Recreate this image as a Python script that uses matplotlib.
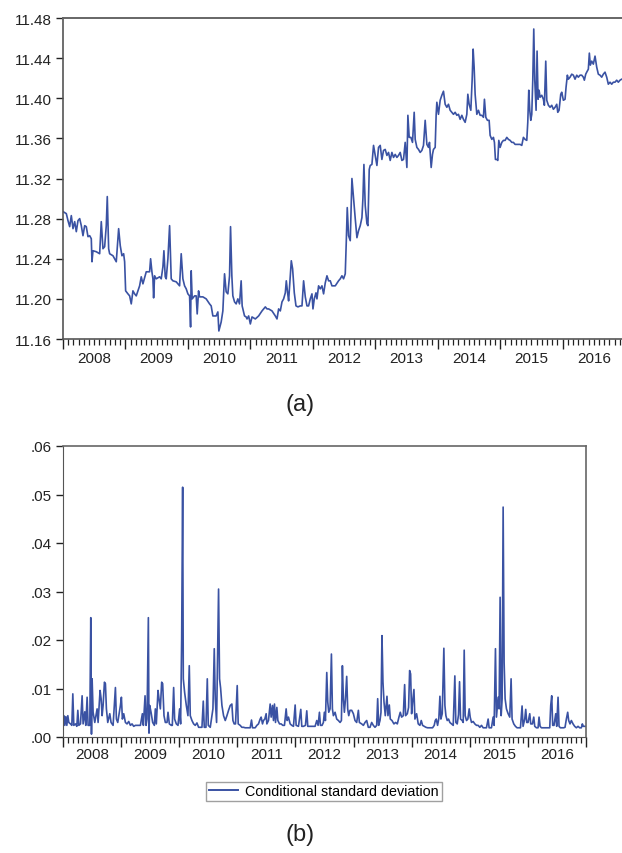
import matplotlib
matplotlib.use("Agg")
import matplotlib.pyplot as plt
from matplotlib.ticker import FixedLocator, NullFormatter
from matplotlib.lines import Line2D

plt.rcParams['font.family'] = ['Liberation Sans', 'DejaVu Sans']

# ---------------- data: panel (a) exchange-rate level ----------------
level_dates = [
    2008.000, 2008.053, 2008.080, 2008.107, 2008.133, 2008.160, 2008.187, 2008.213, 2008.240, 2008.267,
    2008.293, 2008.320, 2008.347, 2008.373, 2008.400, 2008.427, 2008.453, 2008.464, 2008.480, 2008.533,
    2008.587, 2008.613, 2008.640, 2008.667, 2008.693, 2008.709, 2008.731, 2008.747, 2008.800, 2008.853,
    2008.891, 2008.917, 2008.944, 2008.971, 2008.987, 2009.003, 2009.040, 2009.067, 2009.093, 2009.120,
    2009.147, 2009.173, 2009.227, 2009.253, 2009.280, 2009.333, 2009.387, 2009.403, 2009.424, 2009.440,
    2009.451, 2009.467, 2009.493, 2009.547, 2009.573, 2009.600, 2009.616, 2009.637, 2009.653, 2009.680,
    2009.707, 2009.733, 2009.760, 2009.813, 2009.867, 2009.893, 2009.920, 2009.947, 2009.973, 2010.000,
    2010.027, 2010.043, 2010.053, 2010.069, 2010.107, 2010.133, 2010.149, 2010.171, 2010.187, 2010.240,
    2010.293, 2010.347, 2010.373, 2010.400, 2010.453, 2010.480, 2010.496, 2010.533, 2010.560, 2010.587,
    2010.613, 2010.640, 2010.667, 2010.683, 2010.704, 2010.720, 2010.747, 2010.773, 2010.800, 2010.827,
    2010.853, 2010.869, 2010.907, 2010.933, 2010.947, 2010.973, 2011.000, 2011.027, 2011.080, 2011.133,
    2011.187, 2011.240, 2011.267, 2011.293, 2011.347, 2011.400, 2011.427, 2011.453, 2011.480, 2011.507,
    2011.533, 2011.560, 2011.576, 2011.597, 2011.613, 2011.640, 2011.656, 2011.677, 2011.704, 2011.731,
    2011.763, 2011.800, 2011.827, 2011.853, 2011.880, 2011.907, 2011.933, 2011.960, 2011.987, 2012.003,
    2012.024, 2012.051, 2012.067, 2012.093, 2012.120, 2012.147, 2012.173, 2012.200, 2012.227, 2012.253,
    2012.280, 2012.307, 2012.360, 2012.413, 2012.440, 2012.467, 2012.493, 2012.520, 2012.536, 2012.552,
    2012.573, 2012.600, 2012.627, 2012.653, 2012.680, 2012.707, 2012.733, 2012.760, 2012.787, 2012.803,
    2012.819, 2012.840, 2012.867, 2012.883, 2012.904, 2012.920, 2012.947, 2012.973, 2013.000, 2013.027,
    2013.053, 2013.080, 2013.107, 2013.133, 2013.160, 2013.187, 2013.213, 2013.240, 2013.267, 2013.293,
    2013.320, 2013.347, 2013.373, 2013.400, 2013.427, 2013.453, 2013.480, 2013.507, 2013.523, 2013.544,
    2013.571, 2013.597, 2013.624, 2013.640, 2013.667, 2013.693, 2013.720, 2013.747, 2013.773, 2013.800,
    2013.827, 2013.853, 2013.869, 2013.896, 2013.917, 2013.933, 2013.960, 2013.976, 2013.987, 2014.013,
    2014.040, 2014.067, 2014.093, 2014.120, 2014.147, 2014.173, 2014.200, 2014.227, 2014.253, 2014.280,
    2014.307, 2014.333, 2014.360, 2014.387, 2014.413, 2014.440, 2014.467, 2014.483, 2014.504, 2014.531,
    2014.552, 2014.568, 2014.584, 2014.600, 2014.627, 2014.653, 2014.680, 2014.707, 2014.733, 2014.749,
    2014.771, 2014.797, 2014.824, 2014.840, 2014.867, 2014.893, 2014.909, 2014.925, 2014.947, 2014.963,
    2014.979, 2015.000, 2015.027, 2015.053, 2015.080, 2015.107, 2015.133, 2015.160, 2015.187, 2015.213,
    2015.240, 2015.267, 2015.293, 2015.320, 2015.347, 2015.373, 2015.400, 2015.427, 2015.443, 2015.459,
    2015.475, 2015.491, 2015.507, 2015.523, 2015.539, 2015.555, 2015.576, 2015.592, 2015.608, 2015.624,
    2015.640, 2015.667, 2015.693, 2015.709, 2015.731, 2015.747, 2015.773, 2015.800, 2015.827, 2015.853,
    2015.880, 2015.907, 2015.923, 2015.944, 2015.971, 2015.987, 2016.013, 2016.040, 2016.056, 2016.077,
    2016.093, 2016.120, 2016.147, 2016.173, 2016.200, 2016.227, 2016.253, 2016.280, 2016.307, 2016.333,
    2016.349, 2016.371, 2016.387, 2016.413, 2016.429, 2016.445, 2016.467, 2016.493, 2016.520, 2016.547,
    2016.573, 2016.600, 2016.627, 2016.653, 2016.680, 2016.707, 2016.733, 2016.760, 2016.787, 2016.813,
    2016.840, 2016.867, 2016.893, 2016.920, 2016.947, 2016.990,
]
level_values = [
    11.287, 11.285, 11.278, 11.272, 11.283, 11.270, 11.277, 11.267, 11.278, 11.280,
    11.273, 11.263, 11.273, 11.272, 11.262, 11.263, 11.260, 11.237, 11.248, 11.247,
    11.245, 11.277, 11.250, 11.252, 11.273, 11.302, 11.250, 11.245, 11.243, 11.237,
    11.270, 11.253, 11.243, 11.245, 11.237, 11.208, 11.205, 11.203, 11.195, 11.208,
    11.205, 11.203, 11.213, 11.222, 11.215, 11.227, 11.227, 11.240, 11.227, 11.220,
    11.201, 11.223, 11.220, 11.222, 11.220, 11.232, 11.248, 11.222, 11.220, 11.240,
    11.273, 11.220, 11.218, 11.217, 11.213, 11.245, 11.220, 11.213, 11.210, 11.205,
    11.203, 11.172, 11.228, 11.200, 11.203, 11.203, 11.185, 11.208, 11.202, 11.202,
    11.200, 11.195, 11.193, 11.183, 11.183, 11.187, 11.168, 11.177, 11.188, 11.225,
    11.207, 11.205, 11.223, 11.272, 11.223, 11.203, 11.197, 11.195, 11.200, 11.195,
    11.218, 11.193, 11.183, 11.182, 11.180, 11.183, 11.175, 11.182, 11.180, 11.183,
    11.188, 11.192, 11.190, 11.190, 11.188, 11.183, 11.180, 11.190, 11.188, 11.197,
    11.200, 11.206, 11.218, 11.206, 11.198, 11.223, 11.238, 11.230, 11.206, 11.193,
    11.192, 11.193, 11.193, 11.218, 11.202, 11.193, 11.193, 11.200, 11.205, 11.190,
    11.200, 11.206, 11.200, 11.213, 11.210, 11.213, 11.205, 11.216, 11.223, 11.218,
    11.218, 11.213, 11.213, 11.218, 11.220, 11.223, 11.220, 11.225, 11.256, 11.291,
    11.263, 11.258, 11.320, 11.300, 11.280, 11.261, 11.268, 11.273, 11.281, 11.300,
    11.334, 11.293, 11.275, 11.273, 11.329, 11.333, 11.334, 11.353, 11.343, 11.333,
    11.351, 11.353, 11.339, 11.348, 11.349, 11.343, 11.346, 11.338, 11.346, 11.341,
    11.344, 11.341, 11.343, 11.346, 11.338, 11.339, 11.356, 11.331, 11.383, 11.361,
    11.361, 11.356, 11.386, 11.359, 11.351, 11.349, 11.346, 11.348, 11.353, 11.378,
    11.354, 11.351, 11.356, 11.331, 11.344, 11.349, 11.351, 11.384, 11.396, 11.384,
    11.398, 11.403, 11.407, 11.394, 11.391, 11.394, 11.388, 11.386, 11.384, 11.386,
    11.383, 11.384, 11.379, 11.383, 11.379, 11.376, 11.384, 11.404, 11.394, 11.388,
    11.418, 11.449, 11.431, 11.404, 11.384, 11.388, 11.383, 11.383, 11.381, 11.399,
    11.381, 11.378, 11.378, 11.363, 11.359, 11.361, 11.356, 11.339, 11.339, 11.338,
    11.358, 11.351, 11.356, 11.358, 11.358, 11.361, 11.359, 11.358, 11.356, 11.356,
    11.354, 11.354, 11.354, 11.354, 11.353, 11.361, 11.359, 11.358, 11.376, 11.408,
    11.388, 11.378, 11.384, 11.418, 11.469, 11.418, 11.388, 11.447, 11.399, 11.408,
    11.401, 11.403, 11.399, 11.393, 11.437, 11.398, 11.393, 11.391, 11.393, 11.389,
    11.391, 11.394, 11.386, 11.388, 11.404, 11.406, 11.398, 11.399, 11.411, 11.423,
    11.419, 11.421, 11.424, 11.423, 11.419, 11.423, 11.421, 11.423, 11.423, 11.421,
    11.418, 11.424, 11.426, 11.429, 11.445, 11.433, 11.437, 11.434, 11.442, 11.431,
    11.424, 11.423, 11.421, 11.424, 11.426, 11.421, 11.414, 11.416, 11.414, 11.416,
    11.416, 11.418, 11.416, 11.418, 11.419, 11.420,
]

# ---------------- data: panel (b) conditional standard deviation ----------------
sd_dates = [
    2008.000, 2008.014, 2008.031, 2008.049, 2008.066, 2008.083, 2008.100, 2008.129, 2008.152, 2008.169,
    2008.186, 2008.215, 2008.238, 2008.255, 2008.272, 2008.301, 2008.329, 2008.346, 2008.375, 2008.392,
    2008.415, 2008.432, 2008.461, 2008.478, 2008.490, 2008.501, 2008.518, 2008.547, 2008.587, 2008.604,
    2008.638, 2008.656, 2008.673, 2008.690, 2008.713, 2008.730, 2008.747, 2008.770, 2008.805, 2008.827,
    2008.862, 2008.902, 2008.919, 2008.942, 2008.965, 2008.988, 2009.005, 2009.022, 2009.045, 2009.074,
    2009.102, 2009.131, 2009.160, 2009.188, 2009.217, 2009.246, 2009.274, 2009.303, 2009.332, 2009.366,
    2009.383, 2009.412, 2009.429, 2009.446, 2009.469, 2009.480, 2009.492, 2009.515, 2009.543, 2009.572,
    2009.589, 2009.606, 2009.635, 2009.652, 2009.675, 2009.698, 2009.715, 2009.738, 2009.761, 2009.790,
    2009.807, 2009.830, 2009.864, 2009.881, 2009.904, 2009.921, 2009.950, 2009.979, 2010.007, 2010.024,
    2010.042, 2010.059, 2010.070, 2010.093, 2010.122, 2010.150, 2010.173, 2010.190, 2010.219, 2010.248,
    2010.276, 2010.305, 2010.334, 2010.362, 2010.391, 2010.414, 2010.431, 2010.460, 2010.483, 2010.500,
    2010.534, 2010.563, 2010.580, 2010.603, 2010.620, 2010.643, 2010.677, 2010.694, 2010.712, 2010.735,
    2010.763, 2010.792, 2010.821, 2010.849, 2010.878, 2010.906, 2010.924, 2010.946, 2010.969, 2010.998,
    2011.015, 2011.049, 2011.078, 2011.107, 2011.135, 2011.164, 2011.193, 2011.221, 2011.244, 2011.261,
    2011.307, 2011.336, 2011.364, 2011.393, 2011.410, 2011.433, 2011.450, 2011.473, 2011.496, 2011.508,
    2011.536, 2011.565, 2011.582, 2011.605, 2011.622, 2011.639, 2011.657, 2011.680, 2011.697, 2011.726,
    2011.754, 2011.783, 2011.811, 2011.840, 2011.857, 2011.880, 2011.909, 2011.937, 2011.966, 2011.995,
    2012.012, 2012.052, 2012.092, 2012.109, 2012.138, 2012.172, 2012.195, 2012.212, 2012.252, 2012.281,
    2012.310, 2012.338, 2012.367, 2012.390, 2012.413, 2012.430, 2012.458, 2012.481, 2012.498, 2012.516,
    2012.539, 2012.556, 2012.573, 2012.596, 2012.619, 2012.636, 2012.653, 2012.682, 2012.710, 2012.739,
    2012.768, 2012.791, 2012.808, 2012.825, 2012.842, 2012.859, 2012.882, 2012.899, 2012.917, 2012.939,
    2012.968, 2012.997, 2013.025, 2013.054, 2013.083, 2013.100, 2013.140, 2013.169, 2013.197, 2013.226,
    2013.254, 2013.283, 2013.312, 2013.340, 2013.369, 2013.398, 2013.415, 2013.432, 2013.455, 2013.472,
    2013.489, 2013.506, 2013.524, 2013.546, 2013.575, 2013.592, 2013.615, 2013.632, 2013.661, 2013.695,
    2013.724, 2013.753, 2013.781, 2013.804, 2013.827, 2013.856, 2013.879, 2013.896, 2013.925, 2013.947,
    2013.965, 2013.982, 2013.999, 2014.016, 2014.039, 2014.056, 2014.085, 2014.113, 2014.142, 2014.165,
    2014.188, 2014.217, 2014.245, 2014.274, 2014.302, 2014.331, 2014.360, 2014.388, 2014.406, 2014.423,
    2014.446, 2014.468, 2014.486, 2014.503, 2014.526, 2014.554, 2014.572, 2014.589, 2014.612, 2014.635,
    2014.657, 2014.686, 2014.715, 2014.743, 2014.760, 2014.784, 2014.806, 2014.824, 2014.841, 2014.869,
    2014.887, 2014.904, 2014.921, 2014.944, 2014.967, 2014.990, 2015.007, 2015.030, 2015.058, 2015.087,
    2015.116, 2015.144, 2015.173, 2015.202, 2015.230, 2015.259, 2015.287, 2015.316, 2015.333, 2015.373,
    2015.402, 2015.419, 2015.442, 2015.459, 2015.488, 2015.505, 2015.522, 2015.540, 2015.557, 2015.574,
    2015.591, 2015.608, 2015.631, 2015.660, 2015.688, 2015.711, 2015.728, 2015.757, 2015.786, 2015.814,
    2015.843, 2015.872, 2015.900, 2015.917, 2015.946, 2015.963, 2015.980, 2016.003, 2016.032, 2016.049,
    2016.078, 2016.101, 2016.118, 2016.147, 2016.175, 2016.192, 2016.210, 2016.233, 2016.261, 2016.290,
    2016.318, 2016.347, 2016.376, 2016.393, 2016.410, 2016.427, 2016.450, 2016.479, 2016.496, 2016.519,
    2016.536, 2016.559, 2016.588, 2016.616, 2016.639, 2016.662, 2016.685, 2016.702, 2016.725, 2016.748,
    2016.777, 2016.805, 2016.834, 2016.863, 2016.891, 2016.920, 2016.937, 2016.954, 2016.995,
]
sd_values = [
    0.0030, 0.0044, 0.0024, 0.0042, 0.0024, 0.0044, 0.0030, 0.0027, 0.0024, 0.0089,
    0.0024, 0.0027, 0.0022, 0.0055, 0.0024, 0.0027, 0.0085, 0.0027, 0.0052, 0.0024,
    0.0082, 0.0024, 0.0024, 0.0246, 0.0006, 0.0120, 0.0051, 0.0030, 0.0058, 0.0030,
    0.0096, 0.0079, 0.0044, 0.0065, 0.0113, 0.0110, 0.0058, 0.0030, 0.0048, 0.0030,
    0.0024, 0.0102, 0.0037, 0.0030, 0.0048, 0.0065, 0.0082, 0.0037, 0.0048, 0.0030,
    0.0027, 0.0032, 0.0024, 0.0027, 0.0022, 0.0024, 0.0024, 0.0024, 0.0024, 0.0048,
    0.0024, 0.0085, 0.0024, 0.0037, 0.0246, 0.0008, 0.0065, 0.0051, 0.0030, 0.0024,
    0.0058, 0.0027, 0.0096, 0.0079, 0.0058, 0.0113, 0.0110, 0.0044, 0.0030, 0.0030,
    0.0051, 0.0027, 0.0024, 0.0024, 0.0102, 0.0037, 0.0027, 0.0024, 0.0058, 0.0027,
    0.0202, 0.0515, 0.0120, 0.0092, 0.0065, 0.0044, 0.0147, 0.0044, 0.0034, 0.0027,
    0.0024, 0.0029, 0.0020, 0.0020, 0.0020, 0.0074, 0.0020, 0.0020, 0.0120, 0.0024,
    0.0020, 0.0044, 0.0058, 0.0182, 0.0079, 0.0030, 0.0305, 0.0120, 0.0101, 0.0065,
    0.0044, 0.0034, 0.0044, 0.0055, 0.0065, 0.0068, 0.0034, 0.0027, 0.0027, 0.0106,
    0.0027, 0.0024, 0.0020, 0.0020, 0.0019, 0.0019, 0.0019, 0.0019, 0.0035, 0.0019,
    0.0019, 0.0024, 0.0027, 0.0037, 0.0041, 0.0027, 0.0034, 0.0037, 0.0048, 0.0027,
    0.0034, 0.0068, 0.0041, 0.0065, 0.0034, 0.0068, 0.0030, 0.0061, 0.0034, 0.0027,
    0.0027, 0.0024, 0.0024, 0.0058, 0.0034, 0.0041, 0.0027, 0.0024, 0.0022, 0.0066,
    0.0024, 0.0022, 0.0057, 0.0022, 0.0022, 0.0024, 0.0054, 0.0022, 0.0022, 0.0022,
    0.0022, 0.0022, 0.0034, 0.0024, 0.0051, 0.0024, 0.0024, 0.0030, 0.0051, 0.0034,
    0.0133, 0.0072, 0.0051, 0.0058, 0.0171, 0.0058, 0.0044, 0.0051, 0.0037, 0.0034,
    0.0030, 0.0034, 0.0147, 0.0079, 0.0051, 0.0075, 0.0125, 0.0058, 0.0044, 0.0055,
    0.0055, 0.0048, 0.0034, 0.0030, 0.0055, 0.0030, 0.0027, 0.0024, 0.0030, 0.0034,
    0.0020, 0.0020, 0.0030, 0.0024, 0.0020, 0.0024, 0.0079, 0.0024, 0.0034, 0.0051,
    0.0209, 0.0113, 0.0072, 0.0044, 0.0084, 0.0044, 0.0066, 0.0037, 0.0034, 0.0027,
    0.0030, 0.0027, 0.0041, 0.0051, 0.0041, 0.0044, 0.0108, 0.0044, 0.0048, 0.0061,
    0.0137, 0.0130, 0.0048, 0.0072, 0.0098, 0.0037, 0.0048, 0.0027, 0.0024, 0.0034,
    0.0024, 0.0022, 0.0020, 0.0019, 0.0019, 0.0019, 0.0019, 0.0024, 0.0034, 0.0037,
    0.0024, 0.0039, 0.0084, 0.0037, 0.0048, 0.0183, 0.0065, 0.0044, 0.0034, 0.0037,
    0.0030, 0.0027, 0.0024, 0.0126, 0.0030, 0.0027, 0.0046, 0.0114, 0.0037, 0.0034,
    0.0030, 0.0179, 0.0044, 0.0034, 0.0037, 0.0058, 0.0041, 0.0030, 0.0032, 0.0027,
    0.0024, 0.0024, 0.0020, 0.0024, 0.0019, 0.0019, 0.0019, 0.0037, 0.0019, 0.0019,
    0.0041, 0.0024, 0.0182, 0.0041, 0.0082, 0.0058, 0.0288, 0.0044, 0.0079, 0.0474,
    0.0154, 0.0079, 0.0058, 0.0048, 0.0041, 0.0120, 0.0037, 0.0027, 0.0022, 0.0019,
    0.0019, 0.0019, 0.0064, 0.0022, 0.0037, 0.0057, 0.0030, 0.0030, 0.0048, 0.0027,
    0.0027, 0.0041, 0.0022, 0.0019, 0.0019, 0.0041, 0.0022, 0.0019, 0.0019, 0.0019,
    0.0019, 0.0019, 0.0019, 0.0065, 0.0085, 0.0024, 0.0024, 0.0048, 0.0022, 0.0082,
    0.0022, 0.0019, 0.0019, 0.0019, 0.0020, 0.0037, 0.0051, 0.0034, 0.0027, 0.0034,
    0.0027, 0.0022, 0.0019, 0.0022, 0.0019, 0.0019, 0.0027, 0.0022, 0.0022,
]

years = ['2008', '2009', '2010', '2011', '2012', '2013', '2014', '2015', '2016']
level_yticks = [11.16, 11.20, 11.24, 11.28, 11.32, 11.36, 11.40, 11.44, 11.48]
sd_yticks = [0.00, 0.01, 0.02, 0.03, 0.04, 0.05, 0.06]
legend_label = 'Conditional standard deviation'

LINE = '#3a52a3'
SPINE = '#555555'
TXT = '#222222'
FS = 11

fig = plt.figure(figsize=(6.22, 8.54), dpi=100)
W, H = 622.0, 854.0


def axes_px(x0, y0, x1, y1):
    return fig.add_axes([x0 / W, 1 - y1 / H, (x1 - x0) / W, (y1 - y0) / H])


def style_time_axis(ax, label_pad):
    start = int(years[0])
    n = len(years)
    ax.set_xlim(start, start + n)
    major = [start + i for i in range(n + 1)]
    minor = [start + i + m / 12.0 for i in range(n) for m in range(1, 12)]
    ax.xaxis.set_major_locator(FixedLocator(major))
    ax.xaxis.set_minor_locator(FixedLocator(minor))
    ax.xaxis.set_major_formatter(NullFormatter())
    ax.tick_params(axis='x', which='major', direction='out', length=7, width=1.0, color=TXT)
    ax.tick_params(axis='x', which='minor', direction='out', length=4, width=0.9, color=TXT)
    sec = ax.secondary_xaxis('bottom')
    sec.set_xticks([start + i + 0.5 for i in range(n)], labels=years)
    sec.tick_params(length=0, pad=label_pad, labelsize=FS, labelcolor=TXT)
    sec.spines['bottom'].set_visible(False)
    ax.tick_params(axis='y', direction='out', length=5, width=1.0, color=TXT,
                   labelsize=FS, labelcolor=TXT, pad=3)
    ax.tick_params(top=False, right=False)


# ---- panel (a)
ax1 = axes_px(63, 19, 625, 340)
ax1.plot(level_dates, level_values, color=LINE, lw=1.2)
ax1.set_ylim(level_yticks[0], level_yticks[-1])
ax1.set_yticks(level_yticks, labels=['%.2f' % v for v in level_yticks])
style_time_axis(ax1, 8.5)
for s in ['top', 'right']:
    ax1.spines[s].set_color('#666666')
    ax1.spines[s].set_linewidth(1.4)
ax1.spines['left'].set_color(SPINE)
ax1.spines['bottom'].set_color(SPINE)
ax1.spines['left'].set_linewidth(1.2)
ax1.spines['bottom'].set_linewidth(1.2)

# ---- panel (b)
ax2 = axes_px(63, 447, 586, 738)
ax2.plot(sd_dates, sd_values, color=LINE, lw=1.2)
ax2.set_ylim(sd_yticks[0], sd_yticks[-1])
ax2.set_yticks(sd_yticks, labels=[('%.2f' % v)[1:] for v in sd_yticks])
style_time_axis(ax2, 7.5)
for s in ['top', 'right']:
    ax2.spines[s].set_color('#666666')
    ax2.spines[s].set_linewidth(1.2)
ax2.spines['left'].set_color(SPINE)
ax2.spines['bottom'].set_color(SPINE)

handle = Line2D([], [], color=LINE, lw=1.4)
fig.legend([handle], [legend_label], loc='center',
           bbox_to_anchor=(324 / W, 1 - 792.5 / H), frameon=True, fancybox=False,
           edgecolor='#888888', fontsize=10.3, handlelength=2.0, handletextpad=0.5,
           borderpad=0.2, borderaxespad=0)

fig.text(300 / W, 1 - 405 / H, '(a)', ha='center', va='center', fontsize=17, color=TXT)
fig.text(300 / W, 1 - 835 / H, '(b)', ha='center', va='center', fontsize=17, color=TXT)

fig.savefig('out.png', dpi=100)
